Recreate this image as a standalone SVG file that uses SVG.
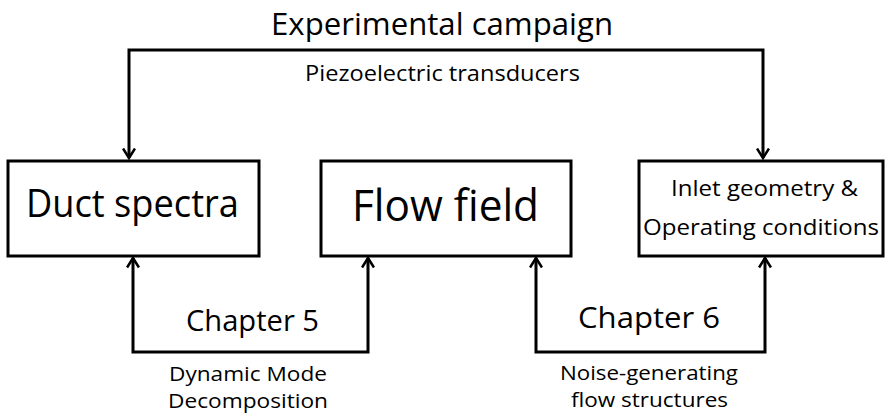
<svg xmlns="http://www.w3.org/2000/svg" width="887" height="415" viewBox="0 0 887 415">
  <defs>
    <style>
      .box { fill: #ffffff; stroke: #000000; stroke-width: 3; }
      .wire { fill: none; stroke: #000000; stroke-width: 3; stroke-linejoin: miter; }
      text { font-family: "Open Sans", "Noto Sans", "Liberation Sans", sans-serif; fill: #000000; }
      .note { font-size: 19.5px; }
    </style>
    <marker id="chevron" viewBox="0 0 12 14" refX="10.5" refY="7" markerWidth="12" markerHeight="14" markerUnits="userSpaceOnUse" orient="auto-start-reverse">
      <path d="M1,1 L10.5,7 L1,13" fill="none" stroke="#000000" stroke-width="2.6"/>
    </marker>
  </defs>
  <rect width="887" height="415" fill="#ffffff"/>

  <!-- title and the label under the top bracket -->
  <text x="271" y="35" font-size="31" textLength="342" lengthAdjust="spacingAndGlyphs">Experimental campaign</text>
  <text x="305" y="81" font-size="22" textLength="275" lengthAdjust="spacingAndGlyphs">Piezoelectric transducers</text>

  <!-- connectors -->
  <g id="connectors">
    <path class="wire" d="M129,158 V50 H763 V158" marker-start="url(#chevron)" marker-end="url(#chevron)"/>
    <path class="wire" d="M133,258 V352 H368 V258" marker-start="url(#chevron)" marker-end="url(#chevron)"/>
    <path class="wire" d="M536,258 V352 H765 V258" marker-start="url(#chevron)" marker-end="url(#chevron)"/>
    <text x="186" y="331" font-size="30" textLength="133" lengthAdjust="spacingAndGlyphs">Chapter 5</text>
    <text x="578" y="328" font-size="30" textLength="142" lengthAdjust="spacingAndGlyphs">Chapter 6</text>
    <text class="note" x="169" y="381" textLength="158" lengthAdjust="spacingAndGlyphs">Dynamic Mode</text>
    <text class="note" x="168" y="408" textLength="160" lengthAdjust="spacingAndGlyphs">Decomposition</text>
    <text class="note" x="560" y="380" textLength="178" lengthAdjust="spacingAndGlyphs">Noise-generating</text>
    <text class="note" x="571" y="407" textLength="157" lengthAdjust="spacingAndGlyphs">flow structures</text>
  </g>

  <g id="duct-spectra">
    <rect class="box" x="8" y="161" width="251" height="95"/>
    <text x="26" y="217" font-size="37.5" textLength="213" lengthAdjust="spacingAndGlyphs">Duct spectra</text>
  </g>

  <g id="flow-field">
    <rect class="box" x="321" y="161" width="250" height="95"/>
    <text x="352" y="221" font-size="43" textLength="187" lengthAdjust="spacingAndGlyphs">Flow field</text>
  </g>

  <g id="inlet-geometry">
    <rect class="box" x="639" y="161" width="244" height="95"/>
    <text x="671" y="196" font-size="22" textLength="187" lengthAdjust="spacingAndGlyphs">Inlet geometry &amp;</text>
    <text x="643" y="235" font-size="22" textLength="236" lengthAdjust="spacingAndGlyphs">Operating conditions</text>
  </g>
</svg>
